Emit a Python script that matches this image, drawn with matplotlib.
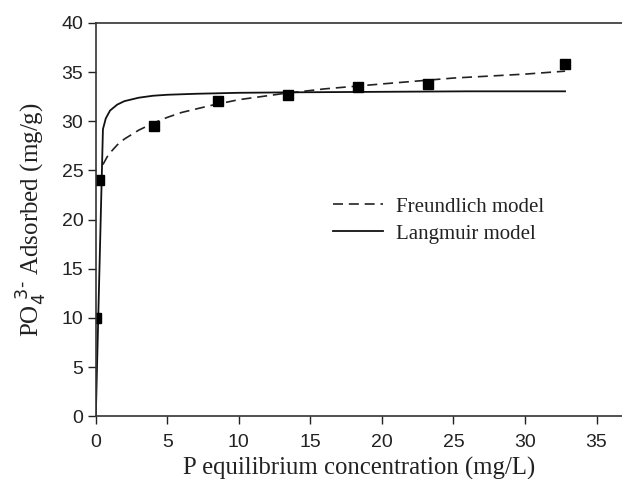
import matplotlib.pyplot as plt

# measured points
conc = [0.0, 0.25, 4.1, 8.55, 13.4, 18.3, 23.2, 32.8]
adsorbed = [10.0, 24.05, 29.5, 32.05, 32.7, 33.45, 33.8, 35.8]

# model curves
freund_x = [0.5, 0.8, 1.0, 1.5, 2.0, 3.0, 4.0, 5.0, 6.0, 8.0, 10.0, 13.0, 16.0, 20.0, 25.0, 30.0, 32.8]
freund_y = [25.6, 26.4, 26.8, 27.6, 28.2, 29.1, 29.8, 30.4, 30.9, 31.6, 32.2, 32.8, 33.3, 33.8, 34.4, 34.8, 35.1]

lang_x = [0.0, 0.5, 0.7, 1.0, 1.5, 2.0, 3.0, 4.0, 5.0, 7.0, 10.0, 14.0, 20.0, 26.0, 32.8]
lang_y = [0.0, 29.2, 30.3, 31.1, 31.7, 32.05, 32.4, 32.6, 32.7, 32.8, 32.9, 32.95, 33.0, 33.05, 33.05]

xticks = [0, 5, 10, 15, 20, 25, 30, 35]
yticks = [0, 5, 10, 15, 20, 25, 30, 35, 40]

serif = ['Liberation Serif', 'DejaVu Serif']
sans = ['Liberation Sans', 'DejaVu Sans']

fig = plt.figure(figsize=(6.22, 4.79), dpi=100)
ax = fig.add_axes([0.154, 0.131, 0.846, 0.821])

ax.plot(freund_x, freund_y, color='#222222', linestyle=(0, (6, 3.5)), linewidth=1.2, label='Freundlich model')
ax.plot(lang_x, lang_y, color='#111111', linestyle='-', linewidth=1.3, label='Langmuir model')
ax.plot(conc, adsorbed, linestyle='none', marker='s', markersize=6.5, color='black')

ax.set_xlim(0, 36.78)
ax.set_ylim(0, 40)
ax.set_xticks(xticks)
ax.set_yticks(yticks)
ax.tick_params(direction='out', length=6, width=1, labelsize=14, colors='#222222')
ax.tick_params(axis='x', pad=7)
ax.tick_params(axis='y', pad=3)
for lab in ax.get_xticklabels() + ax.get_yticklabels():
    lab.set_family(sans)

ax.spines['right'].set_visible(False)
for s in ['left', 'bottom', 'top']:
    ax.spines[s].set_linewidth(1.2)
    ax.spines[s].set_color('#333333')

ax.set_xlabel('P equilibrium concentration (mg/L)', family=serif, fontsize=17.8, color='#222222', labelpad=4)
ax.set_ylabel(r'PO$_4^{\ 3\text{-}}$ Adsorbed (mg/g)', family=serif, fontsize=18, color='#222222', labelpad=9)

leg = ax.legend(loc='upper left', bbox_to_anchor=(0.416, 0.605), frameon=False,
                prop={'family': serif, 'size': 15}, handlelength=2.4, handletextpad=0.6,
                labelspacing=0.35)
for t in leg.get_texts():
    t.set_color('#222222')

fig.savefig('out.png', dpi=100)
